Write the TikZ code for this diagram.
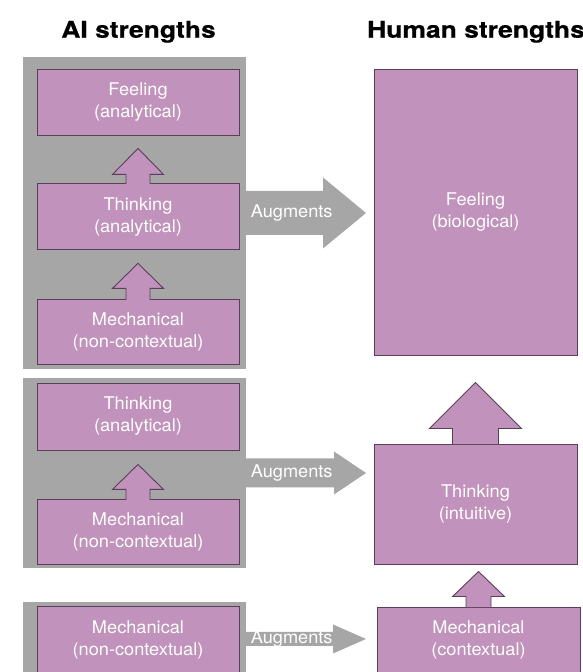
\documentclass[tikz,border=0pt]{standalone}
\usepackage{fontspec}
\setmainfont{TeX Gyre Heros}[FakeStretch=1.04]
\newfontfamily\headfont{TeX Gyre Heros}[FakeStretch=1.15,FakeBold=0.6]
\usetikzlibrary{positioning,calc}

\definecolor{boxpurple}{HTML}{C192BB}
\definecolor{boxedge}{HTML}{5B3E57}
\definecolor{panelgrey}{HTML}{A6A6A6}

\tikzset{
	strength/.style={draw=boxedge, line width=0.9pt, fill=boxpurple, text=white, align=center, minimum width=202pt, inner sep=0pt, font=\fontsize{17.5}{22}\selectfont},
	panel/.style={fill=panelgrey, minimum width=223pt, inner sep=0pt},
	blockup/.style={draw=boxedge, line width=0.9pt, fill=boxpurple, line join=miter},
	augarrow/.style={fill=panelgrey},
	auglabel/.style={text=white, inner sep=0pt, font=\fontsize{17.5}{22}\selectfont},
	heading/.style={anchor=base, inner sep=0pt, font=\headfont\bfseries\fontsize{23}{26}\selectfont}
}

\begin{document}
\begin{tikzpicture}[x=1pt,y=1pt,node distance=48pt]
	\useasboundingbox (0,0) rectangle (582,672);
	
	\node[heading] (aiHead) at (138.5,634.3) {AI strengths};
	\node[heading] (humanHead) at (476,634.3) {Human strengths};
	
	% grey panels
	\node[panel, minimum height=312pt] (panelA) at (134.5,459) {};
	\node[panel, minimum height=190pt] (panelB) at (134.5,199) {};
	\node[panel, minimum height=74pt] (panelC) at (134.5,33) {};
	
	% AI column
	\node[strength, minimum height=66pt] (feelA) at (138,570) {Feeling\\(analytical)};
	\node[strength, minimum height=66pt] (thinkA) [below=of feelA] {Thinking\\(analytical)};
	\node[strength, minimum height=65pt] (mechA) [below=49pt of thinkA] {Mechanical\\(non-contextual)};
	\node[strength, minimum height=67pt] (thinkA2) at (138,255.5) {Thinking\\(analytical)};
	\node[strength, minimum height=65pt] (mechA2) [below=49pt of thinkA2] {Mechanical\\(non-contextual)};
	\node[strength, minimum height=67pt] (mechA3) at (138,32.5) {Mechanical\\(non-contextual)};
	
	% human column
	\node[strength, minimum width=203pt, minimum height=286pt] (feelB) at (475.5,460) {Feeling\\(biological)};
	\node[strength, minimum width=203pt, minimum height=120pt] (thinkB) at (475.5,168) {Thinking\\(intuitive)};
	\node[strength, minimum width=203pt, minimum height=66pt] (mechB) at (478.5,32) {Mechanical\\(contextual)};
	
	% block arrows upwards
	\foreach \lo/\sw/\hw/\s/\hh in {thinkA/12/25.5/9/26, mechA/12/25.5/11/25, mechA2/12/25.5/10/25, thinkB/23/46/15/46, mechB/12.5/26/10/25}
		\filldraw[blockup] ($(\lo.north)+(-\sw,-0.5)$) -- ++(0,\s+0.5) -- ++(\sw-\hw,0)
			-- ($(\lo.north)+(0,\s+\hh)$) -- ($(\lo.north)+(\hw,\s)$) -- ++(\sw-\hw,0)
			-- ($(\lo.north)+(\sw,-0.5)$);
	
	% augments arrows
	\coordinate (tipA) at (366,459);
	\coordinate (tipB) at (366,199);
	\coordinate (tipC) at (366,33);
	\foreach \src/\tip/\sh/\hh/\hl in {panelA/tipA/22/35.5/43, panelB/tipB/14.5/21.5/32, panelC/tipC/7/14.5/33}
	{
		\fill[augarrow] (\tip) -- ++(-\hl,\hh) -- ++(0,\sh-\hh) -- ($(\src.east)+(0,\sh)$)
			-- ($(\src.east)+(0,-\sh)$) -- ($(\tip)+(-\hl,-\sh)$) -- ++(0,\sh-\hh) -- cycle;
		\node[auglabel] at ($(\src.east)+(45.5,0)$) {Augments};
	}
\end{tikzpicture}
\end{document}
